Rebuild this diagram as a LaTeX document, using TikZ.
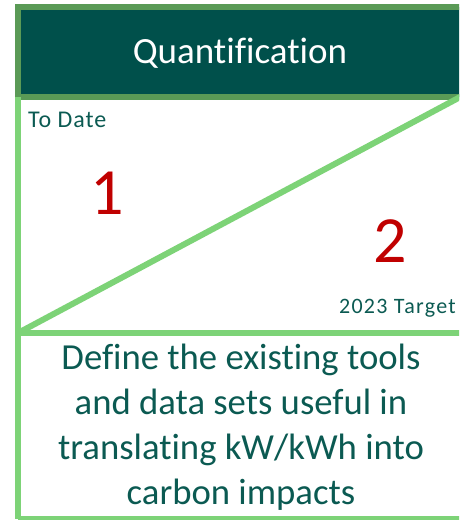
\documentclass[tikz,border=0pt]{standalone}
\usepackage{fontspec}
\setmainfont{Carlito}[Ligatures=NoCommon]
\definecolor{hdrfill}{HTML}{00504B}
\definecolor{hdrline}{HTML}{5A9A56}
\definecolor{lgreen}{HTML}{7DD377}
\definecolor{tealtext}{HTML}{0B5A52}
\definecolor{numred}{HTML}{C00000}
\begin{document}
\begin{tikzpicture}[x=1pt,y=-1pt,
  gline/.style={draw=lgreen,line width=6pt},
  smalllabel/.style={text=tealtext,inner sep=0pt,anchor=base},
  bignum/.style={text=numred,inner sep=0pt,anchor=base,font=\fontsize{66}{70}\selectfont}]
\useasboundingbox (0,0) rectangle (459,520);
\clip (0,0) rectangle (459,520);
% header
\path[fill=hdrfill,draw=hdrline,line width=6pt] (18,7) rectangle (470,97);
\node[text=white,inner sep=0pt,anchor=base,font=\fontsize{37}{40}\selectfont] (title) at (240,63) {Quantification};
% lower box lines
\coordinate (tl) at (18,97);
\coordinate (ml) at (18,333);
\coordinate (mr) at (470,333);
\coordinate (bl) at (18,519);
\coordinate (br) at (470,519);
\coordinate (tr) at (464,95);
\draw[gline] (tl) -- (bl);
\draw[gline] (ml) -- (mr);
\draw[gline] (bl) -- (br);
\draw[gline,line cap=round] (ml) -- (tr);
% labels
\node[smalllabel,anchor=base west,font=\fontsize{24}{28}\selectfont\addfontfeature{LetterSpace=4}] (todate) at (28,127) {To Date};
\node[smalllabel,anchor=base east,font=\fontsize{22}{26}\selectfont\addfontfeature{LetterSpace=6}] (target) at (456,313) {2023 Target};
\node[bignum] (one) at (107,214) {1};
\node[bignum] (two) at (390,262) {2};
% body
\node[text=tealtext,inner sep=0pt,anchor=base,align=center,font=\fontsize{36.7}{45}\selectfont] (body) at (241,504)
  {Define the existing tools\\and data sets useful in\\translating kW/kWh into\\carbon impacts};
\end{tikzpicture}
\end{document}
